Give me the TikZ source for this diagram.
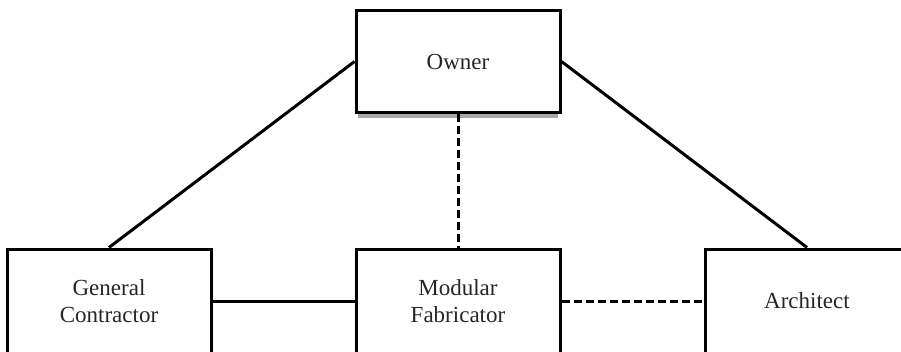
\documentclass[tikz,border=0pt]{standalone}
\usepackage{fontspec}
\setmainfont{Liberation Serif}
\usepackage{xcolor}
\usepackage{tikz}
\usetikzlibrary{positioning,calc}
\definecolor{shadowgray}{HTML}{A8A8A8}

\begin{document}
\begin{tikzpicture}[x=1pt,y=1pt,
    party/.style={draw,line width=3pt,fill=white,minimum width=204pt,
      minimum height=102pt,align=center,font=\fontsize{23}{27}\selectfont,
      text=black!85},
    link/.style={line width=3pt},
    loose/.style={line width=3pt,dash pattern=on 8pt off 4pt}]
  \useasboundingbox (0,0) rectangle (901,351);

  % Owner at the top, with its grey shadow
  \fill[shadowgray] (358,233) rectangle (558,236.5);
  \node[party] (owner) at (458,289.5) {Owner};

  % The three parties on the bottom row
  \node[party,minimum height=104pt] (gc) at (109,50) {General\\Contractor};
  \node[party,minimum height=104pt] (mf) at (458,50) {Modular\\Fabricator};
  \node[party,minimum height=104pt] (arch) at (807,50) {Architect};

  % Contracts
  \draw[link] (owner.west) -- (gc.north);
  \draw[link] (owner.east) -- (arch.north);
  \draw[link] (gc.east) -- (mf.west);

  % Communication only
  \draw[loose] (owner.south) -- (mf.north);
  \draw[loose] (mf.east) -- (arch.west);
\end{tikzpicture}
\end{document}
